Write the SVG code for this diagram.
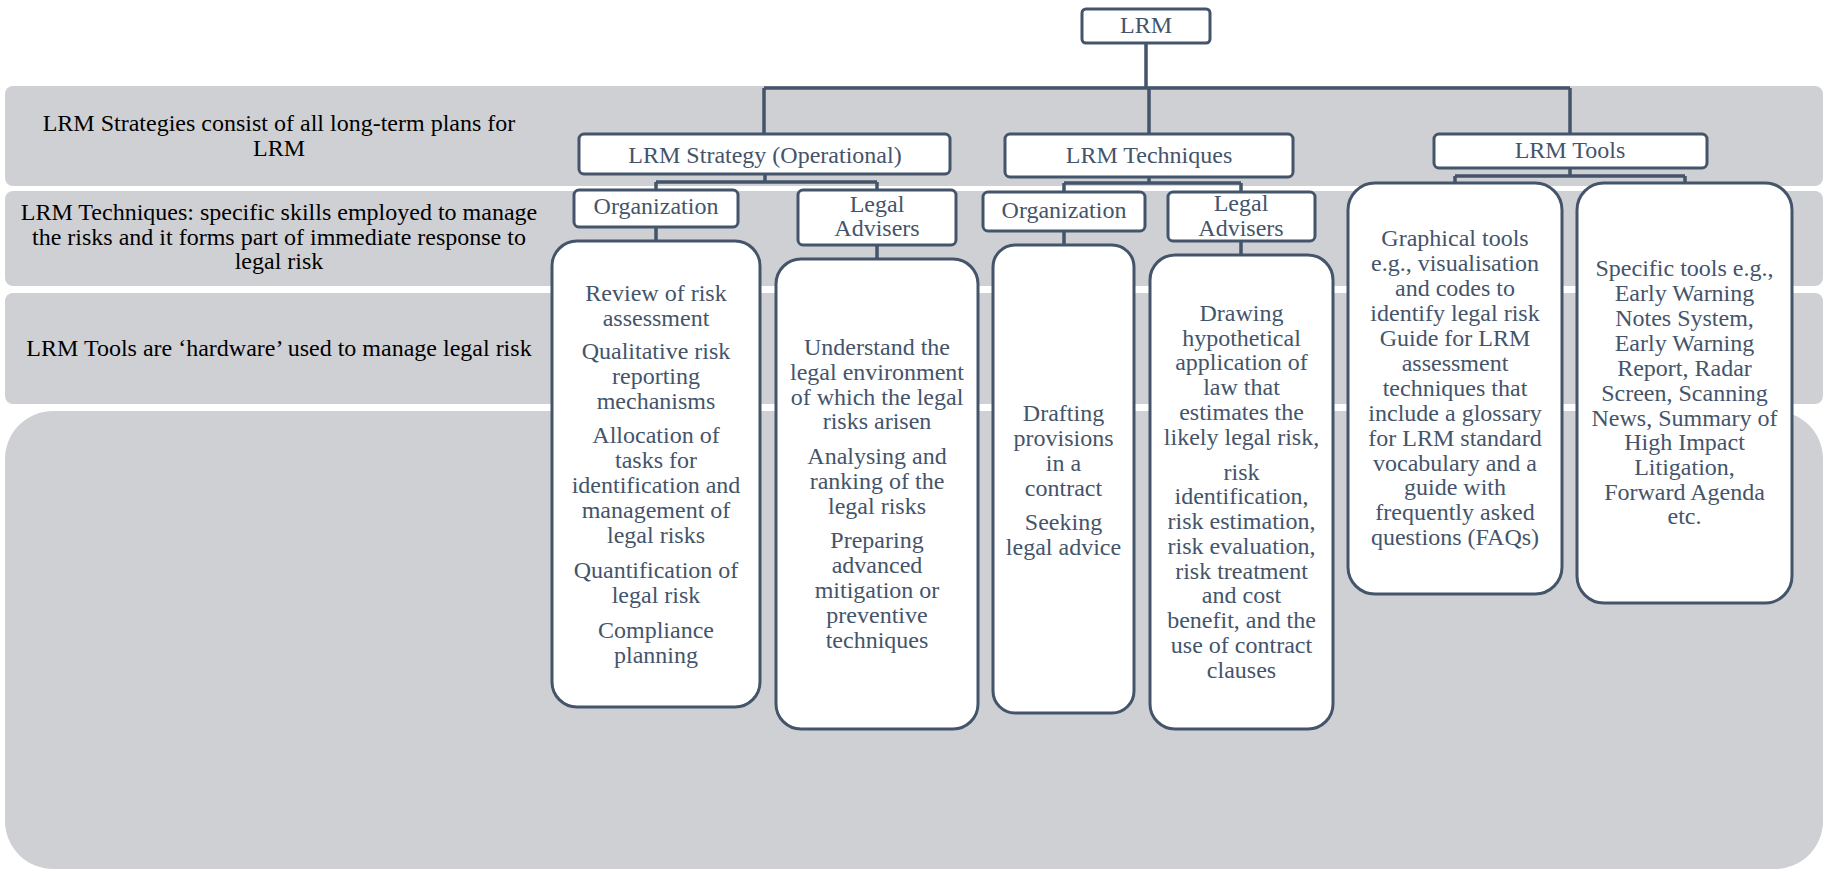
<svg xmlns="http://www.w3.org/2000/svg" width="1824" height="871" viewBox="0 0 1824 871">
<style>
.band{fill:#cfd0d4}
.bt{font-family:"Liberation Serif",serif;font-size:24px;fill:#000;text-anchor:middle}
.box{fill:#fff;stroke:#44546a;stroke-width:3}
.nt{font-family:"Liberation Serif",serif;font-size:24px;fill:#44546a;text-anchor:middle}
.con{fill:none;stroke:#44546a;stroke-width:3.5}
</style>
<rect width="1824" height="871" fill="#fff"/>
<g id="bands">
<rect class="band" x="5" y="86" width="1818" height="100" rx="8"/>
<rect class="band" x="5" y="191" width="1818" height="95" rx="8"/>
<rect class="band" x="5" y="293" width="1818" height="111" rx="8"/>
<rect class="band" x="5" y="411" width="1818" height="458" rx="48"/>
<text class="bt"><tspan x="279" y="131">LRM Strategies consist of all long-term plans for</tspan><tspan x="279" y="156">LRM</tspan></text>
<text class="bt"><tspan x="279" y="220">LRM Techniques: specific skills employed to manage</tspan><tspan x="279" y="245">the risks and it forms part of immediate response to</tspan><tspan x="279" y="269">legal risk</tspan></text>
<text class="bt" x="279" y="356">LRM Tools are ‘hardware’ used to manage legal risk</text>
</g>
<g id="connectors" class="con">
<path d="M1146 43V88M764 88H1570M764 88V134M1149 88V134M1570 88V134"/>
<path d="M765 174V182M656 182H877M656 182V190M877 182V190M656 227V241M877 245V259"/>
<path d="M1149 177V183M1064 183H1241M1064 183V192M1241 183V192M1064 231V245M1241 241V255"/>
<path d="M1570 168V176M1455 176H1685M1455 176V183M1685 176V183"/>
</g>
<g id="lrm"><rect class="box" x="1082" y="9" width="128" height="34" rx="4"/><text class="nt" x="1146" y="33">LRM</text></g>
<g id="strategy"><rect class="box" x="579" y="134" width="371" height="40" rx="5"/><text class="nt" x="765" y="163">LRM Strategy (Operational)</text></g>
<g id="techniques"><rect class="box" x="1005" y="134" width="288" height="43" rx="5"/><text class="nt" x="1149" y="163">LRM Techniques</text></g>
<g id="tools"><rect class="box" x="1434" y="134" width="273" height="34" rx="5"/><text class="nt" x="1570" y="158">LRM Tools</text></g>
<g id="strategy-org"><rect class="box" x="574" y="190" width="164" height="37" rx="5"/><text class="nt" x="656" y="214">Organization</text></g>
<g id="strategy-legal"><rect class="box" x="798" y="190" width="158" height="55" rx="5"/><text class="nt"><tspan x="877" y="212">Legal</tspan><tspan x="877" y="236">Advisers</tspan></text></g>
<g id="tech-org"><rect class="box" x="983" y="192" width="162" height="39" rx="5"/><text class="nt" x="1064" y="218">Organization</text></g>
<g id="tech-legal"><rect class="box" x="1168" y="192" width="147" height="49" rx="5"/><text class="nt"><tspan x="1241" y="211">Legal</tspan><tspan x="1241" y="236">Advisers</tspan></text></g>
<g id="strategy-org-detail"><rect class="box" x="552" y="241" width="208" height="466" rx="25"/>
<text class="nt"><tspan x="656" y="301">Review of risk</tspan><tspan x="656" y="326">assessment</tspan><tspan x="656" y="359">Qualitative risk</tspan><tspan x="656" y="384">reporting</tspan><tspan x="656" y="409">mechanisms</tspan><tspan x="656" y="443">Allocation of</tspan><tspan x="656" y="468">tasks for</tspan><tspan x="656" y="493">identification and</tspan><tspan x="656" y="518">management of</tspan><tspan x="656" y="543">legal risks</tspan><tspan x="656" y="578">Quantification of</tspan><tspan x="656" y="603">legal risk</tspan><tspan x="656" y="638">Compliance</tspan><tspan x="656" y="663">planning</tspan></text></g>
<g id="strategy-legal-detail"><rect class="box" x="776" y="259" width="202" height="470" rx="25"/>
<text class="nt"><tspan x="877" y="355">Understand the</tspan><tspan x="877" y="380">legal environment</tspan><tspan x="877" y="405">of which the legal</tspan><tspan x="877" y="429">risks arisen</tspan><tspan x="877" y="464">Analysing and</tspan><tspan x="877" y="489">ranking of the</tspan><tspan x="877" y="514">legal risks</tspan><tspan x="877" y="548">Preparing</tspan><tspan x="877" y="573">advanced</tspan><tspan x="877" y="598">mitigation or</tspan><tspan x="877" y="623">preventive</tspan><tspan x="877" y="648">techniques</tspan></text></g>
<g id="tech-org-detail"><rect class="box" x="993" y="245" width="141" height="468" rx="22"/>
<text class="nt"><tspan x="1063.5" y="421">Drafting</tspan><tspan x="1063.5" y="446">provisions</tspan><tspan x="1063.5" y="471">in a</tspan><tspan x="1063.5" y="496">contract</tspan><tspan x="1063.5" y="530">Seeking</tspan><tspan x="1063.5" y="555">legal advice</tspan></text></g>
<g id="tech-legal-detail"><rect class="box" x="1150" y="255" width="183" height="474" rx="25"/>
<text class="nt"><tspan x="1241.5" y="321">Drawing</tspan><tspan x="1241.5" y="346">hypothetical</tspan><tspan x="1241.5" y="370">application of</tspan><tspan x="1241.5" y="395">law that</tspan><tspan x="1241.5" y="420">estimates the</tspan><tspan x="1241.5" y="445">likely legal risk,</tspan><tspan x="1241.5" y="480">risk</tspan><tspan x="1241.5" y="504">identification,</tspan><tspan x="1241.5" y="529">risk estimation,</tspan><tspan x="1241.5" y="554">risk evaluation,</tspan><tspan x="1241.5" y="579">risk treatment</tspan><tspan x="1241.5" y="603">and cost</tspan><tspan x="1241.5" y="628">benefit, and the</tspan><tspan x="1241.5" y="653">use of contract</tspan><tspan x="1241.5" y="678">clauses</tspan></text></g>
<g id="tools-graphical"><rect class="box" x="1348" y="183" width="214" height="411" rx="27"/>
<text class="nt"><tspan x="1455" y="246">Graphical tools</tspan><tspan x="1455" y="271">e.g., visualisation</tspan><tspan x="1455" y="296">and codes to</tspan><tspan x="1455" y="321">identify legal risk</tspan><tspan x="1455" y="346">Guide for LRM</tspan><tspan x="1455" y="371">assessment</tspan><tspan x="1455" y="396">techniques that</tspan><tspan x="1455" y="421">include a glossary</tspan><tspan x="1455" y="446">for LRM standard</tspan><tspan x="1455" y="471">vocabulary and a</tspan><tspan x="1455" y="495">guide with</tspan><tspan x="1455" y="520">frequently asked</tspan><tspan x="1455" y="545">questions (FAQs)</tspan></text></g>
<g id="tools-specific"><rect class="box" x="1577" y="183" width="215" height="420" rx="27"/>
<text class="nt"><tspan x="1684.5" y="276">Specific tools e.g.,</tspan><tspan x="1684.5" y="301">Early Warning</tspan><tspan x="1684.5" y="326">Notes System,</tspan><tspan x="1684.5" y="351">Early Warning</tspan><tspan x="1684.5" y="376">Report, Radar</tspan><tspan x="1684.5" y="401">Screen, Scanning</tspan><tspan x="1684.5" y="426">News, Summary of</tspan><tspan x="1684.5" y="450">High Impact</tspan><tspan x="1684.5" y="475">Litigation,</tspan><tspan x="1684.5" y="500">Forward Agenda</tspan><tspan x="1684.5" y="524">etc.</tspan></text></g>
</svg>
